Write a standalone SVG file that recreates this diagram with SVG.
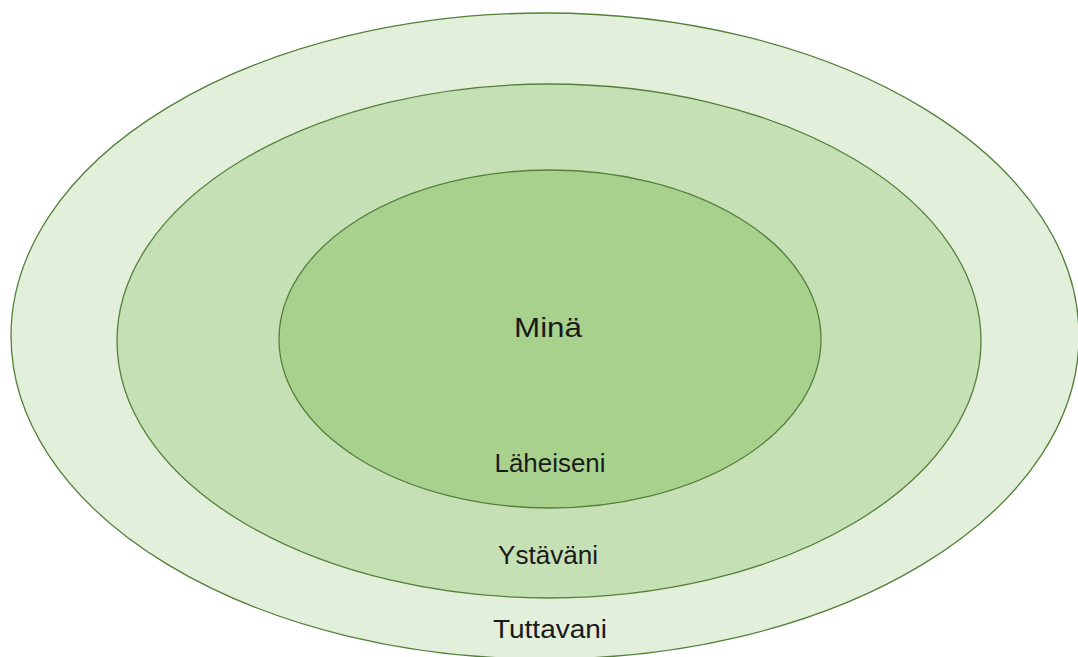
<svg xmlns="http://www.w3.org/2000/svg" width="1078" height="657" viewBox="0 0 1078 657">
<style>
.ring{stroke:#54803A;stroke-width:1.3}
.lbl{font-family:"Liberation Sans","DejaVu Sans",sans-serif;fill:#1a1a1a;text-anchor:middle}
</style>
<rect width="1078" height="657" fill="#ffffff"/>
<g id="tuttavani">
<ellipse class="ring" cx="545" cy="336" rx="534" ry="323" fill="#E2EFDA"/>
<text class="lbl" x="550" y="638" font-size="25" textLength="114" lengthAdjust="spacingAndGlyphs">Tuttavani</text>
</g>
<g id="ystavani">
<ellipse class="ring" cx="549" cy="341" rx="432" ry="257" fill="#C5E0B4"/>
<text class="lbl" x="548" y="564" font-size="25" textLength="100" lengthAdjust="spacingAndGlyphs">Ystäväni</text>
</g>
<g id="laheiseni">
<ellipse class="ring" cx="550" cy="339" rx="271" ry="169" fill="#A9D18E"/>
<text class="lbl" x="550" y="472" font-size="25" textLength="111" lengthAdjust="spacingAndGlyphs">Läheiseni</text>
</g>
<g id="mina">
<text class="lbl" x="548" y="337" font-size="28" textLength="68" lengthAdjust="spacingAndGlyphs">Minä</text>
</g>
<g id="connectors"></g>
</svg>
